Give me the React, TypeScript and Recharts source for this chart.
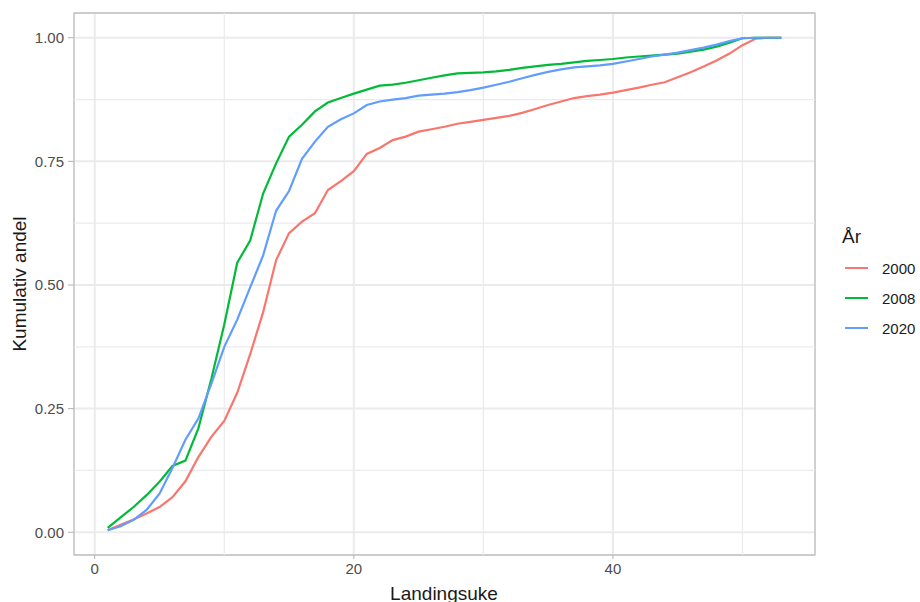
import React from 'react';
import {
  LineChart, Line, XAxis, YAxis, CartesianGrid, ReferenceLine, ReferenceArea,
} from 'recharts';

const weeks = [
  1, 2, 3, 4, 5, 6, 7, 8, 9, 10, 11, 12, 13, 14, 15, 16, 17, 18, 19, 20,
  21, 22, 23, 24, 25, 26, 27, 28, 29, 30, 31, 32, 33, 34, 35, 36, 37, 38, 39, 40,
  41, 42, 43, 44, 45, 46, 47, 48, 49, 50, 51, 52, 53,
];

const share2000 = [
  0.004, 0.015, 0.026, 0.038, 0.051, 0.071, 0.103, 0.152, 0.193, 0.225,
  0.282, 0.36, 0.445, 0.55, 0.605, 0.628, 0.645, 0.692, 0.71, 0.73,
  0.765, 0.777, 0.793, 0.8, 0.81, 0.815, 0.82, 0.826, 0.83, 0.834,
  0.838, 0.842, 0.848, 0.856, 0.864, 0.871, 0.878, 0.882, 0.885, 0.889,
  0.894, 0.899, 0.905, 0.91, 0.92, 0.93, 0.942, 0.954, 0.968, 0.985,
  0.998, 1.0, 1.0,
];

const share2008 = [
  0.009, 0.03, 0.051, 0.075, 0.102, 0.134, 0.145, 0.21, 0.31, 0.42,
  0.545, 0.59, 0.685, 0.746, 0.8, 0.824, 0.851, 0.869, 0.878, 0.887,
  0.895, 0.903, 0.905, 0.909, 0.914, 0.919, 0.924, 0.928, 0.929, 0.93,
  0.932, 0.935, 0.939, 0.942, 0.945, 0.947, 0.95, 0.953, 0.955, 0.957,
  0.96, 0.962, 0.964, 0.966, 0.968, 0.972, 0.976, 0.982, 0.99, 0.999,
  1.0, 1.0, 1.0,
];

const share2020 = [
  0.004, 0.012, 0.025, 0.045, 0.078, 0.13, 0.187, 0.23, 0.3, 0.375,
  0.43, 0.495, 0.56, 0.65, 0.69, 0.755, 0.79, 0.82, 0.835, 0.847,
  0.864, 0.871, 0.875, 0.878, 0.883, 0.885, 0.887, 0.89, 0.894, 0.899,
  0.905, 0.911, 0.918, 0.925, 0.931, 0.936, 0.94, 0.942, 0.944, 0.947,
  0.952, 0.957, 0.962, 0.966, 0.97, 0.975, 0.98, 0.986, 0.993, 0.999,
  1.0, 1.0, 1.0,
];

const xTicks = [0, 20, 40];
const yTicks = [0, 0.25, 0.5, 0.75, 1];
const xMinor = [10, 30, 50];
const yMinor = [0.125, 0.375, 0.625, 0.875];

const xDomain = [-1.6, 55.6];
const yDomain = [-0.046, 1.05];

const series = [
  { key: 'y2000', name: '2000', color: '#F8766D' },
  { key: 'y2008', name: '2008', color: '#00BA38' },
  { key: 'y2020', name: '2020', color: '#619CFF' },
];

const data = weeks.map((w, i) => ({
  week: w,
  y2000: share2000[i],
  y2008: share2008[i],
  y2020: share2020[i],
}));

const FONT = '"Liberation Sans", Arial, sans-serif';
const GRID = '#EBEBEB';

export default function App() {
  return (
    <div style={{ position: 'absolute', left: 0, top: 0, width: 920, height: 602, background: '#fff', fontFamily: FONT }}>
      <LineChart width={920} height={602} data={data} margin={{ top: 13, right: 105, bottom: 0, left: 0 }}>
        <CartesianGrid stroke={GRID} strokeWidth={2} />
        {xMinor.map((v) => (
          <ReferenceLine key={`vx-${v}`} x={v} stroke={GRID} strokeWidth={1.2} />
        ))}
        {yMinor.map((v) => (
          <ReferenceLine key={`hy-${v}`} y={v} stroke={GRID} strokeWidth={1.2} />
        ))}
        <XAxis
          type="number"
          dataKey="week"
          domain={xDomain}
          ticks={xTicks}
          allowDataOverflow
          height={47}
          axisLine={false}
          tickSize={4}
          tickMargin={4}
          tickLine={{ stroke: '#B3B3B3' }}
          tick={{ fill: '#4D4D4D', fontSize: 15, fontFamily: FONT }}
        />
        <YAxis
          type="number"
          domain={yDomain}
          ticks={yTicks}
          allowDataOverflow
          width={74}
          axisLine={false}
          tickSize={6}
          tickMargin={4}
          tickLine={{ stroke: '#B3B3B3' }}
          tickFormatter={(v: number) => v.toFixed(2)}
          tick={{ fill: '#4D4D4D', fontSize: 15, fontFamily: FONT }}
        />
        {series.map((s) => (
          <Line
            key={s.key}
            type="linear"
            dataKey={s.key}
            stroke={s.color}
            strokeWidth={2.2}
            dot={false}
            isAnimationActive={false}
          />
        ))}
        <ReferenceArea
          x1={xDomain[0]}
          x2={xDomain[1]}
          y1={yDomain[0]}
          y2={yDomain[1]}
          fill="none"
          fillOpacity={0}
          stroke="#C2C2C2"
          strokeWidth={1.3}
          ifOverflow="visible"
        />
      </LineChart>

      <div
        style={{
          position: 'absolute', left: 20, top: 284, transform: 'translate(-50%, -50%) rotate(-90deg)',
          fontSize: 19, color: '#1a1a1a', whiteSpace: 'nowrap',
        }}
      >
        Kumulativ andel
      </div>
      <div
        style={{
          position: 'absolute', left: 444, top: 583, transform: 'translateX(-50%)',
          fontSize: 19, color: '#1a1a1a', whiteSpace: 'nowrap', lineHeight: '22px',
        }}
      >
        Landingsuke
      </div>

      <div style={{ position: 'absolute', left: 842, top: 225, fontSize: 19, color: '#1a1a1a', lineHeight: '24px' }}>
        År
      </div>
      {series.map((s, i) => (
        <div key={s.key} style={{ position: 'absolute', left: 845, top: 268 + i * 30 - 10, height: 20, display: 'flex', alignItems: 'center' }}>
          <div style={{ width: 23, height: 2.4, background: s.color }} />
          <div style={{ marginLeft: 14, fontSize: 15, color: '#1a1a1a' }}>{s.name}</div>
        </div>
      ))}
    </div>
  );
}
